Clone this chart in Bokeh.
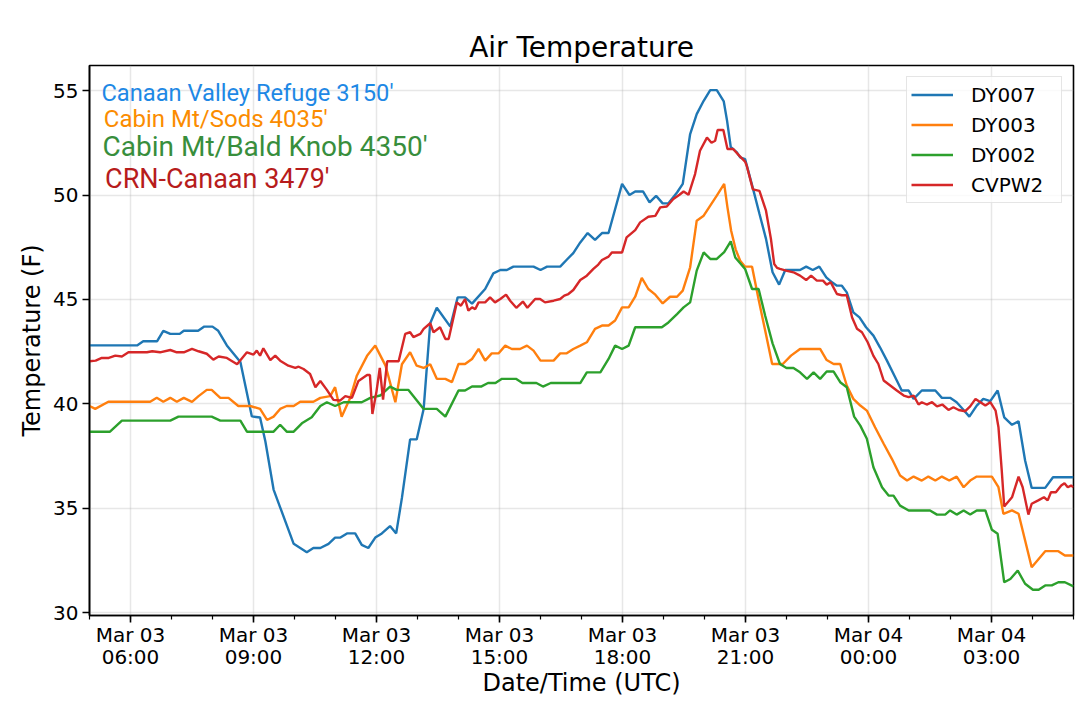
import pandas as pd
from bokeh.plotting import figure
from bokeh.models import Range1d, FixedTicker, DatetimeTickFormatter, Label
from bokeh.embed import file_html
from bokeh.resources import INLINE

# ---------------- data (hours after Mar 03 05:00 UTC, temperature in F) ----------------
START = "2019-03-03 05:00"
END = "2019-03-04 05:00"
major_tick_times = ["2019-03-03 06:00", "2019-03-03 09:00", "2019-03-03 12:00", "2019-03-03 15:00",
                    "2019-03-03 18:00", "2019-03-03 21:00", "2019-03-04 00:00", "2019-03-04 03:00"]
y_ticks = [30, 35, 40, 45, 50, 55]

dy007_h = [0, 1.16, 1.31, 1.65, 1.8, 1.97, 2.2, 2.3, 2.65, 2.8, 3.0, 3.14, 3.35, 3.68, 3.96, 4.16, 4.29,
           4.49, 4.65, 4.98, 5.3, 5.46, 5.63, 5.83, 5.99, 6.12, 6.28, 6.48, 6.64, 6.8, 6.97, 7.13, 7.33,
           7.48, 7.62, 7.82, 7.98, 8.15, 8.31, 8.47, 8.8, 8.98, 9.16, 9.33, 9.65, 9.85, 10.02, 10.18,
           10.34, 10.83, 11.0, 11.16, 11.48, 11.64, 11.8, 11.97, 12.15, 12.33, 12.5, 12.66, 12.99, 13.17,
           13.31, 13.5, 13.66, 13.82, 13.98, 14.12, 14.33, 14.47, 14.65, 14.81, 14.98, 15.14, 15.3, 15.47,
           15.55, 15.64, 15.79, 15.87, 15.99, 16.17, 16.34, 16.5, 16.66, 16.82, 16.97, 17.33, 17.48, 17.64,
           17.8, 17.97, 18.11, 18.23, 18.35, 18.47, 18.63, 18.78, 18.94, 19.12, 19.28, 19.45, 19.69, 19.81,
           19.98, 20.1, 20.3, 20.63, 20.79, 20.99, 21.15, 21.32, 21.46, 21.64, 21.8, 21.97, 22.15, 22.31,
           22.5, 22.66, 22.82, 22.98, 23.31, 23.5, 24.0]
dy007_t = [42.8, 42.8, 43.0, 43.0, 43.5, 43.35, 43.35, 43.5, 43.5, 43.7, 43.7, 43.5, 42.8, 42.0, 39.4, 39.35,
           38.2, 35.9, 35.05, 33.3, 32.9, 33.1, 33.1, 33.3, 33.6, 33.6, 33.8, 33.8, 33.25, 33.1, 33.6, 33.8,
           34.15, 33.8, 35.5, 38.3, 38.3, 39.76, 43.86, 44.6, 43.7, 45.1, 45.1, 44.8, 45.5, 46.25, 46.41,
           46.41, 46.57, 46.57, 46.41, 46.57, 46.57, 46.9, 47.22, 47.73, 48.18, 47.85, 48.18, 48.18, 50.53,
           50.0, 50.17, 50.17, 49.65, 49.96, 49.6, 49.6, 50.12, 50.53, 52.92, 53.87, 54.51, 55.02, 55.02,
           54.48, 53.56, 52.3, 52.04, 51.8, 51.72, 50.4, 49.1, 47.9, 46.3, 45.71, 46.41, 46.41, 46.57, 46.41,
           46.57, 46.06, 45.82, 45.66, 45.66, 45.34, 44.38, 44.14, 43.67, 43.27, 42.71, 42.07, 41.12, 40.64,
           40.64, 40.24, 40.64, 40.64, 40.29, 40.29, 40.08, 39.71, 39.39, 39.92, 40.24, 40.13, 40.64, 39.36,
           39.0, 39.17, 37.29, 35.98, 35.98, 36.49, 36.49]

dy003_h = [0, 0.14, 0.46, 1.48, 1.64, 1.8, 1.97, 2.13, 2.3, 2.5, 2.66, 2.86, 2.98, 3.19, 3.39, 3.63, 3.92,
           4.16, 4.33, 4.49, 4.65, 4.81, 4.98, 5.14, 5.46, 5.63, 5.87, 5.99, 6.15, 6.36, 6.52, 6.77, 6.97,
           7.22, 7.46, 7.62, 7.82, 7.98, 8.15, 8.31, 8.47, 8.68, 8.84, 9.0, 9.16, 9.33, 9.49, 9.65, 9.81,
           9.98, 10.14, 10.3, 10.5, 10.67, 10.83, 11.0, 11.32, 11.48, 11.64, 11.8, 11.97, 12.13, 12.33, 12.5,
           12.66, 12.82, 12.99, 13.15, 13.31, 13.47, 13.63, 13.8, 13.98, 14.16, 14.33, 14.47, 14.65, 14.81,
           14.98, 15.14, 15.3, 15.48, 15.56, 15.65, 15.76, 15.87, 15.99, 16.16, 16.32, 16.48, 16.65, 16.91,
           17.11, 17.33, 17.82, 17.98, 18.15, 18.31, 18.47, 18.63, 18.8, 18.96, 19.16, 19.37, 19.57, 19.77,
           19.94, 20.1, 20.3, 20.46, 20.63, 20.79, 20.97, 21.15, 21.32, 21.48, 21.64, 22.01, 22.17, 22.29,
           22.5, 22.66, 22.82, 22.98, 23.31, 23.63, 23.79, 24.0]
dy003_t = [39.9, 39.76, 40.1, 40.1, 40.29, 40.1, 40.29, 40.1, 40.29, 40.1, 40.37, 40.67, 40.67, 40.29, 40.29,
           39.9, 39.9, 39.76, 39.23, 39.39, 39.76, 39.9, 39.9, 40.1, 40.1, 40.29, 40.37, 40.8, 39.39, 40.29,
           41.35, 42.3, 42.79, 41.83, 40.08, 41.9, 42.47, 41.83, 41.72, 41.9, 41.2, 41.2, 41.04, 41.91, 41.91,
           42.15, 42.63, 42.07, 42.42, 42.42, 42.79, 42.63, 42.63, 42.79, 42.55, 42.07, 42.07, 42.42, 42.42,
           42.63, 42.79, 42.95, 43.59, 43.75, 43.75, 43.99, 44.62, 44.62, 45.13, 46.03, 45.5, 45.23, 44.81,
           45.13, 45.13, 45.42, 46.54, 48.77, 49.01, 49.49, 49.97, 50.53, 49.41, 48.29, 47.4, 46.85, 46.57,
           46.57, 45.0, 43.51, 41.91, 41.91, 42.31, 42.63, 42.63, 42.1, 41.91, 41.91, 40.88, 40.24, 39.92,
           39.68, 38.88, 38.09, 37.37, 36.57, 36.33, 36.52, 36.33, 36.52, 36.33, 36.52, 36.33, 36.52, 36.01,
           36.33, 36.52, 36.52, 36.01, 34.74, 34.9, 34.74, 33.46, 32.18, 32.95, 32.95, 32.74, 32.74]

dy002_h = [0, 0.5, 0.79, 1.97, 2.17, 2.98, 3.19, 3.68, 3.84, 4.49, 4.65, 4.81, 4.98, 5.18, 5.42, 5.63, 5.79,
           5.99, 6.2, 6.64, 6.85, 7.09, 7.33, 7.49, 7.78, 8.15, 8.47, 8.68, 9.0, 9.16, 9.33, 9.55, 9.72, 9.9,
           10.06, 10.4, 10.56, 10.9, 11.06, 11.25, 11.97, 12.13, 12.46, 12.66, 12.82, 12.99, 13.15, 13.31,
           13.96, 14.12, 14.33, 14.49, 14.65, 14.81, 14.98, 15.14, 15.3, 15.48, 15.64, 15.75, 15.85, 15.99,
           16.16, 16.32, 16.48, 16.66, 16.84, 17.0, 17.17, 17.33, 17.5, 17.66, 17.82, 17.98, 18.15, 18.31,
           18.47, 18.65, 18.8, 18.96, 19.12, 19.33, 19.49, 19.61, 19.77, 19.98, 20.5, 20.67, 20.87, 20.99,
           21.15, 21.32, 21.48, 21.64, 21.85, 22.01, 22.15, 22.31, 22.46, 22.64, 22.82, 23.01, 23.15, 23.31,
           23.47, 23.63, 23.79, 24.0]
dy002_t = [38.67, 38.67, 39.2, 39.2, 39.39, 39.39, 39.2, 39.2, 38.67, 38.67, 39.0, 38.67, 38.67, 39.07, 39.36,
           39.9, 40.08, 39.9, 40.08, 40.08, 40.29, 40.4, 40.83, 40.67, 40.67, 39.76, 39.76, 39.39, 40.64,
           40.64, 40.83, 40.83, 41.0, 41.0, 41.2, 41.2, 41.0, 41.0, 40.83, 41.0, 41.0, 41.51, 41.51, 42.15,
           42.79, 42.63, 42.79, 43.67, 43.67, 43.9, 44.3, 44.62, 44.86, 46.38, 47.25, 46.94, 46.94, 47.27,
           47.78, 47.01, 46.78, 46.46, 45.5, 45.5, 44.22, 42.9, 41.91, 41.72, 41.72, 41.51, 41.2, 41.51, 41.2,
           41.55, 41.55, 41.04, 40.8, 39.39, 38.96, 38.33, 36.97, 36.01, 35.61, 35.61, 35.13, 34.9, 34.9,
           34.7, 34.7, 34.9, 34.7, 34.9, 34.7, 34.9, 34.9, 33.97, 33.78, 31.46, 31.62, 32.02, 31.39, 31.1,
           31.1, 31.31, 31.31, 31.46, 31.46, 31.26]

cvpw2_h = [0, 0.15, 0.3, 0.47, 0.63, 0.79, 0.95, 1.4, 1.53, 1.72, 1.97, 2.13, 2.3, 2.5, 2.66, 2.86, 3.02,
           3.15, 3.35, 3.6, 3.84, 4.0, 4.08, 4.16, 4.24, 4.41, 4.53, 4.65, 4.85, 5.02, 5.1, 5.22, 5.38, 5.51,
           5.63, 5.79, 5.95, 6.11, 6.24, 6.4, 6.56, 6.77, 6.84, 6.9, 7.0, 7.08, 7.16, 7.26, 7.54, 7.7, 7.82,
           7.9, 8.07, 8.15, 8.31, 8.39, 8.55, 8.68, 8.76, 8.96, 9.06, 9.16, 9.24, 9.33, 9.41, 9.49, 9.65,
           9.77, 9.89, 10.02, 10.16, 10.26, 10.41, 10.57, 10.68, 10.87, 10.99, 11.11, 11.32, 11.48, 11.58,
           11.68, 11.8, 11.97, 12.13, 12.29, 12.41, 12.5, 12.66, 12.74, 12.99, 13.1, 13.31, 13.43, 13.63,
           13.8, 13.92, 14.08, 14.24, 14.39, 14.49, 14.61, 14.77, 14.89, 15.06, 15.17, 15.26, 15.32, 15.46,
           15.56, 15.7, 15.84, 15.99, 16.03, 16.18, 16.34, 16.5, 16.62, 16.7, 16.77, 16.84, 16.99, 17.17,
           17.33, 17.48, 17.6, 17.74, 17.89, 17.98, 18.08, 18.23, 18.35, 18.47, 18.6, 18.72, 18.84, 18.98,
           19.12, 19.24, 19.37, 19.53, 19.69, 19.86, 19.98, 20.1, 20.22, 20.3, 20.42, 20.55, 20.67, 20.8,
           20.95, 21.07, 21.2, 21.36, 21.48, 21.61, 21.73, 21.85, 21.97, 22.1, 22.17, 22.25, 22.31, 22.5,
           22.66, 22.76, 22.9, 22.98, 23.14, 23.28, 23.37, 23.45, 23.57, 23.7, 23.78, 23.86, 23.94, 24.0]
cvpw2_t = [42.04, 42.07, 42.2, 42.2, 42.31, 42.27, 42.47, 42.47, 42.52, 42.47, 42.58, 42.47, 42.47, 42.63,
           42.52, 42.4, 42.12, 42.27, 42.2, 41.9, 42.47, 42.36, 42.55, 42.31, 42.66, 42.1, 42.31, 42.07,
           41.83, 41.72, 41.78, 41.67, 41.43, 40.8, 41.1, 40.67, 40.19, 40.16, 40.37, 40.29, 41.1, 41.38,
           41.38, 39.52, 40.6, 41.72, 40.2, 42.04, 42.04, 43.35, 43.43, 43.2, 43.35, 43.59, 43.86, 43.43,
           43.67, 43.11, 43.11, 44.86, 44.7, 45.02, 44.46, 44.62, 44.54, 44.86, 44.86, 45.1, 44.86, 45.02,
           45.23, 44.94, 44.6, 44.9, 44.6, 45.02, 45.02, 44.86, 44.94, 45.02, 45.18, 45.26, 45.45, 45.93,
           46.14, 46.46, 46.67, 46.89, 47.05, 47.25, 47.25, 47.97, 48.32, 48.69, 48.96, 49.0, 49.41, 49.45,
           49.81, 50.01, 50.17, 50.01, 51.0, 52.12, 52.75, 52.5, 52.6, 53.11, 53.11, 52.2, 52.2, 51.9, 51.6,
           51.4, 50.27, 50.2, 49.25, 47.9, 46.7, 46.51, 46.46, 46.38, 46.3, 46.14, 45.93, 46.14, 45.9, 45.9,
           45.71, 45.82, 45.26, 45.2, 45.2, 44.14, 43.6, 43.43, 42.95, 42.3, 41.91, 41.12, 40.88, 40.64,
           40.4, 40.32, 40.4, 39.97, 40.08, 39.97, 40.08, 39.88, 39.97, 39.71, 39.84, 39.71, 39.65, 39.88,
           40.24, 40.08, 39.92, 40.08, 39.68, 38.88, 36.81, 35.09, 35.53, 36.52, 36.01, 34.7, 35.22, 35.38,
           35.53, 35.38, 35.77, 35.77, 36.09, 36.2, 36.01, 36.09, 36.01]

series_names = ["DY007", "DY003", "DY002", "CVPW2"]
series_colors = ["#1f77b4", "#ff7f0e", "#2ca02c", "#d62728"]

station_notes = ["Canaan Valley Refuge 3150'", "Cabin Mt/Sods 4035'",
                 "Cabin Mt/Bald Knob 4350'", "CRN-Canaan 3479'"]
note_colors = ["#1E88E5", "#FB8C00", "#388E3C", "#B71C1C"]
note_sizes = ["23.7px", "24px", "28px", "27px"]
note_pos_h = [0.29, 0.35, 0.32, 0.38]
note_pos_v = [54.86, 53.66, 52.30, 50.77]

# ---------------- helpers ----------------
base = pd.Timestamp(START)
def to_ms(ts):
    return (pd.Timestamp(ts) - pd.Timestamp("1970-01-01")).total_seconds() * 1000.0
base_ms = to_ms(base)
def hours_to_ms(hs):
    return [base_ms + h * 3600000.0 for h in hs]

FONT = "DejaVu Sans"

p = figure(frame_width=984, frame_height=550, x_axis_type="datetime",
           output_backend="svg", toolbar_location=None,
           min_border_left=89, min_border_right=5, min_border_top=65, min_border_bottom=80,
           x_range=Range1d(to_ms(START), to_ms(END)), y_range=Range1d(29.87, 56.2))
p.background_fill_color = "white"
p.border_fill_color = "white"
p.outline_line_color = "black"
p.outline_line_width = 1.6

p.title.text = "Air Temperature"
p.title.align = "center"
p.title.text_font = FONT
p.title.text_font_size = "28px"
p.title.text_font_style = "normal"
p.title.text_color = "black"
p.title.standoff = 3

maj = [to_ms(t) for t in major_tick_times]
minor = [to_ms(base) + k * 3600000.0 for k in range(0, 25)]
p.xaxis.ticker = FixedTicker(ticks=maj, minor_ticks=minor)
fmt = "%b %d\n%H:%M"
p.xaxis.formatter = DatetimeTickFormatter(hours=fmt, hourmin=fmt, minutes=fmt, minsec=fmt,
                                          seconds=fmt, days=fmt, months=fmt, years=fmt)
p.yaxis.ticker = FixedTicker(ticks=y_ticks, minor_ticks=[])

for ax in (p.xaxis[0], p.yaxis[0]):
    ax.axis_line_color = "black"
    ax.axis_line_width = 1.6
    ax.major_tick_line_color = "black"
    ax.major_tick_line_width = 1.6
    ax.major_tick_out = 7
    ax.major_tick_in = 0
    ax.minor_tick_line_color = "black"
    ax.minor_tick_line_width = 1.2
    ax.minor_tick_out = 4
    ax.minor_tick_in = 0
    ax.major_label_text_font = FONT
    ax.major_label_text_font_size = "20px"
    ax.major_label_text_color = "black"
    ax.axis_label_text_font = FONT
    ax.axis_label_text_font_size = "24px"
    ax.axis_label_text_font_style = "normal"
    ax.axis_label_text_color = "black"

p.xaxis.axis_label = "Date/Time (UTC)"
p.yaxis.axis_label = "Temperature (F)"
p.xaxis.major_label_text_line_height = 0.95
p.xaxis.major_label_standoff = 0
p.xaxis.axis_label_standoff = -3
p.yaxis.major_label_standoff = 4
p.yaxis.axis_label_standoff = 4

for g in (p.xgrid[0], p.ygrid[0]):
    g.grid_line_color = "#b0b0b0"
    g.grid_line_alpha = 0.3
    g.grid_line_width = 1.5
p.ygrid.ticker = FixedTicker(ticks=y_ticks)

hours_list = [dy007_h, dy003_h, dy002_h, cvpw2_h]
temps_list = [dy007_t, dy003_t, dy002_t, cvpw2_t]
for name, color, hs, ts in zip(series_names, series_colors, hours_list, temps_list):
    p.line(hours_to_ms(hs), ts, line_color=color, line_width=2.4, legend_label=name)

lg = p.legend[0]
lg.location = "top_right"
lg.margin = 11
lg.padding = 4
lg.spacing = 3
lg.glyph_width = 42
lg.glyph_height = 27
lg.label_height = 27
lg.label_width = 86
lg.label_standoff = 18
lg.label_text_font = FONT
lg.label_text_font_size = "20px"
lg.label_text_color = "black"
lg.border_line_color = "#cccccc"
lg.border_line_width = 1.5
lg.background_fill_color = "white"
lg.background_fill_alpha = 0.8

for txt, col, size, h, v in zip(station_notes, note_colors, note_sizes, note_pos_h, note_pos_v):
    p.add_layout(Label(x=base_ms + h * 3600000.0, y=v, text=txt, text_color=col,
                       text_font="Roboto", text_font_size=size,
                       text_baseline="alphabetic", text_align="left"))

open("out.html", "w").write(file_html(p, INLINE))
